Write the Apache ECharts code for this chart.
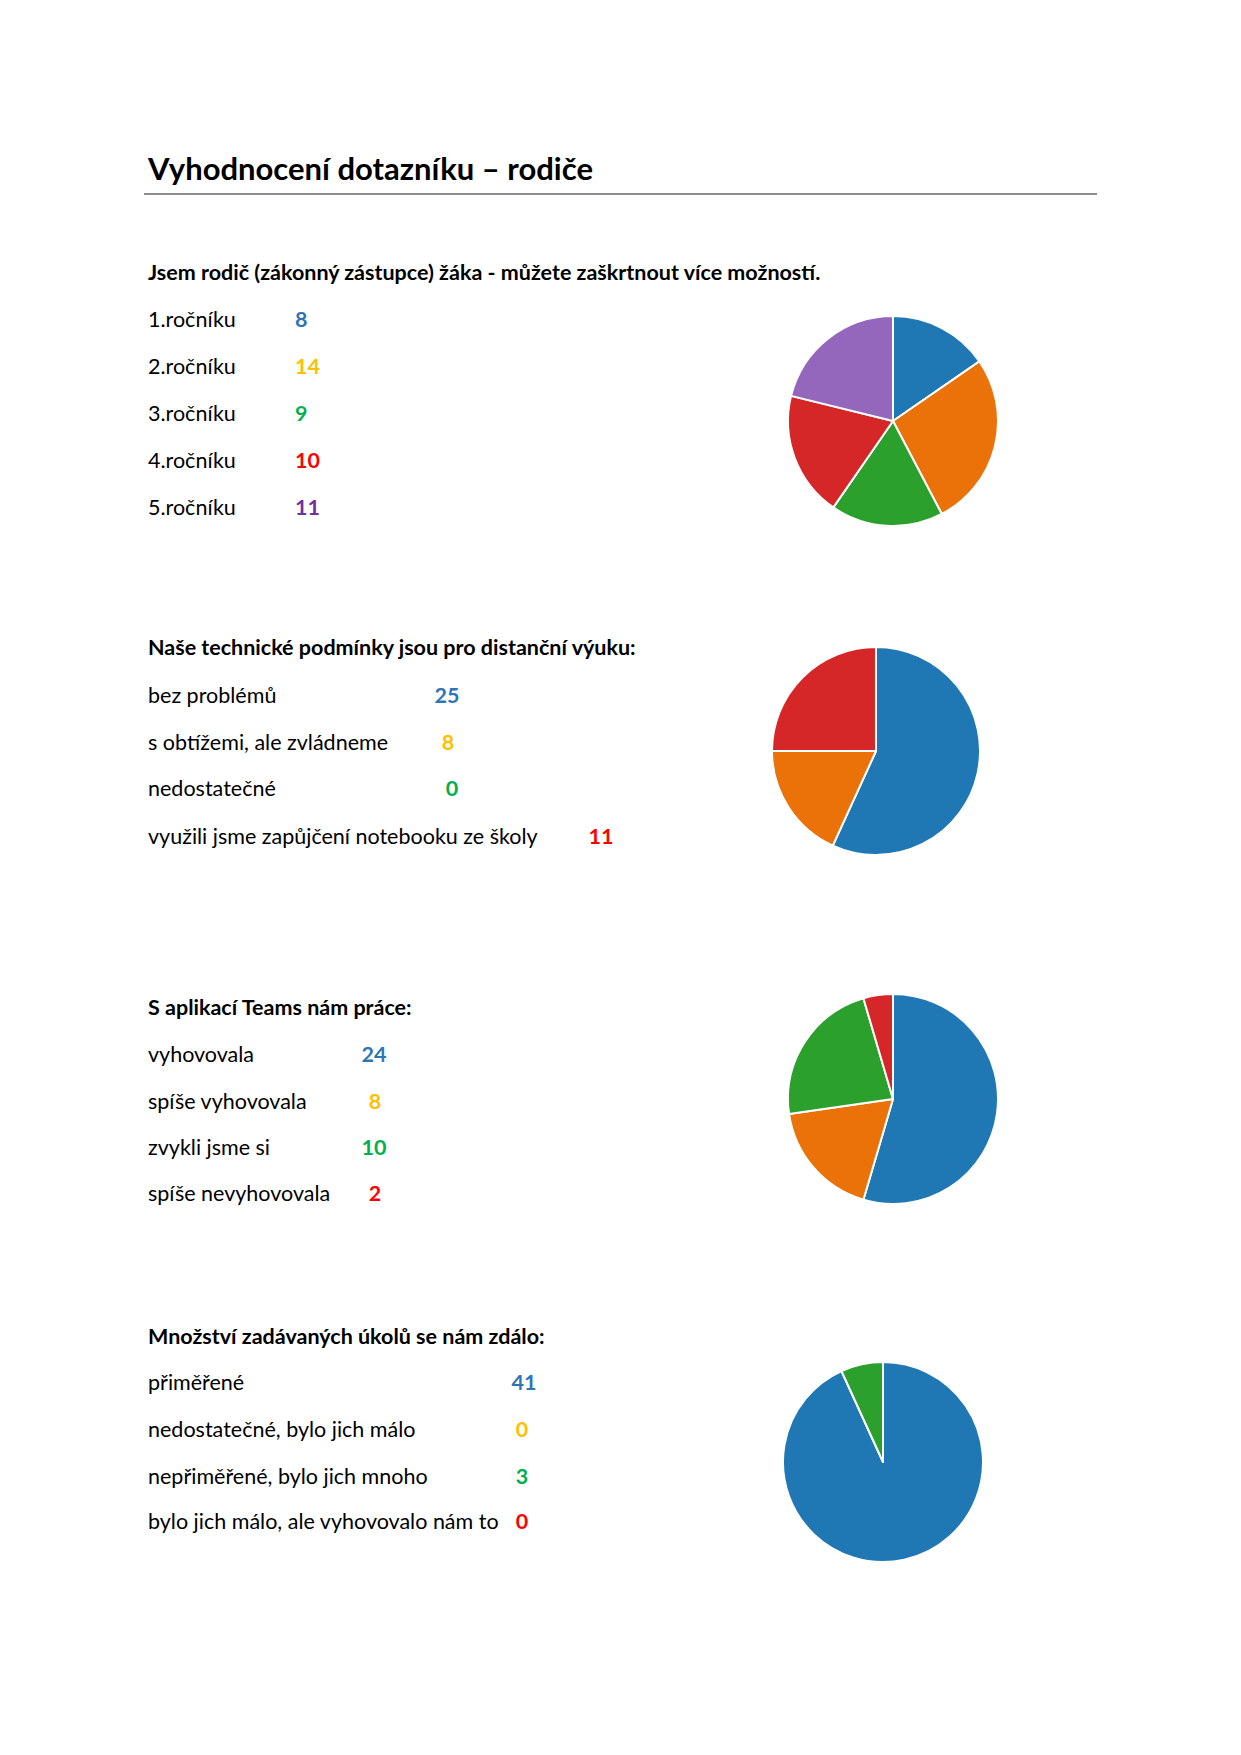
<!DOCTYPE html>
<html>
<head>
<meta charset="utf-8">
<script src="https://cdn.jsdelivr.net/npm/echarts@6/dist/echarts.min.js"></script>
<style>
html,body{margin:0;padding:0;background:#fff;}
#c{width:1241px;height:1755px;}
</style>
</head>
<body>
<div id="c"></div>
<script>
// ---- data ----
const pageTitle = 'Vyhodnocení dotazníku – rodiče';

const q1Title = 'Jsem rodič (zákonný zástupce) žáka - můžete zaškrtnout více možností.';
const q1Labels = ['1.ročníku', '2.ročníku', '3.ročníku', '4.ročníku', '5.ročníku'];
const q1Values = [8, 14, 9, 10, 11];

const q2Title = 'Naše technické podmínky jsou pro distanční výuku:';
const q2Labels = ['bez problémů', 's obtížemi, ale zvládneme', 'nedostatečné', 'využili jsme zapůjčení notebooku ze školy'];
const q2Values = [25, 8, 0, 11];

const q3Title = 'S aplikací Teams nám práce:';
const q3Labels = ['vyhovovala', 'spíše vyhovovala', 'zvykli jsme si', 'spíše nevyhovovala'];
const q3Values = [24, 8, 10, 2];

const q4Title = 'Množství zadávaných úkolů se nám zdálo:';
const q4Labels = ['přiměřené', 'nedostatečné, bylo jich málo', 'nepřiměřené, bylo jich mnoho', 'bylo jich málo, ale vyhovovalo nám to'];
const q4Values = [41, 0, 3, 0];

// ---- styles / layout ----
const pieColors = ['#1f77b4', '#ea7209', '#2ca02c', '#d62728', '#9467bd'];
const numColors = ['#2E75B6', '#FFC000', '#00B050', '#FF0000', '#7030A0'];
const FONT = 'Lato, "Noto Sans", sans-serif';

const sections = [
  {title: q1Title, labels: q1Labels, values: q1Values, headY: 272, rowY: [319, 366, 413, 460, 507],
   valX: [295, 295, 295, 295, 295], valAlign: 'left', pie: {c: [893, 421], r: 105}},
  {title: q2Title, labels: q2Labels, values: q2Values, headY: 647, rowY: [695, 742, 788, 836],
   valX: [447, 448, 452, 601], valAlign: 'center', pie: {c: [876, 751], r: 104}},
  {title: q3Title, labels: q3Labels, values: q3Values, headY: 1007, rowY: [1054, 1101, 1147, 1193],
   valX: [374, 375, 374, 375], valAlign: 'center', pie: {c: [893, 1099], r: 105}},
  {title: q4Title, labels: q4Labels, values: q4Values, headY: 1336, rowY: [1382, 1429, 1476, 1521],
   valX: [524, 522, 522, 522], valAlign: 'center', pie: {c: [883, 1462], r: 100}}
];

const graphics = [];
graphics.push({type: 'text', style: {x: 148, y: 168, text: pageTitle, fill: '#000',
  font: 'bold 31px ' + FONT, textAlign: 'left', textVerticalAlign: 'middle', verticalAlign: 'middle'}});
graphics.push({type: 'line', shape: {x1: 144, y1: 194, x2: 1097, y2: 194}, style: {stroke: '#666666', lineWidth: 1.5}});

const series = [];
sections.forEach(function (s) {
  graphics.push({type: 'text', style: {x: 148, y: s.headY, text: s.title, fill: '#000',
    font: 'bold 21.5px ' + FONT, textAlign: 'left', textVerticalAlign: 'middle', verticalAlign: 'middle'}});
  s.labels.forEach(function (lab, i) {
    graphics.push({type: 'text', style: {x: 148, y: s.rowY[i], text: lab, fill: '#000',
      font: '21.5px ' + FONT, textAlign: 'left', textVerticalAlign: 'middle', verticalAlign: 'middle'}});
    graphics.push({type: 'text', style: {x: s.valX[i], y: s.rowY[i], text: String(s.values[i]), fill: numColors[i],
      font: 'bold 21.5px ' + FONT, textAlign: s.valAlign, textVerticalAlign: 'middle', verticalAlign: 'middle'}});
  });
  series.push({
    type: 'pie',
    center: s.pie.c,
    radius: [0, s.pie.r],
    startAngle: 90,
    clockwise: true,
    silent: true,
    label: {show: false},
    labelLine: {show: false},
    itemStyle: {borderColor: '#fff', borderWidth: 2},
    data: s.values.map(function (v, i) {
      return {name: s.labels[i], value: v, itemStyle: {color: pieColors[i]}};
    }).filter(function (d) { return d.value > 0; })
  });
});

const chart = echarts.init(document.getElementById('c'), null, {renderer: 'svg', width: 1241, height: 1755});
chart.setOption({
  backgroundColor: '#fff',
  animation: false,
  series: series,
  graphic: graphics
});
</script>
</body>
</html>
